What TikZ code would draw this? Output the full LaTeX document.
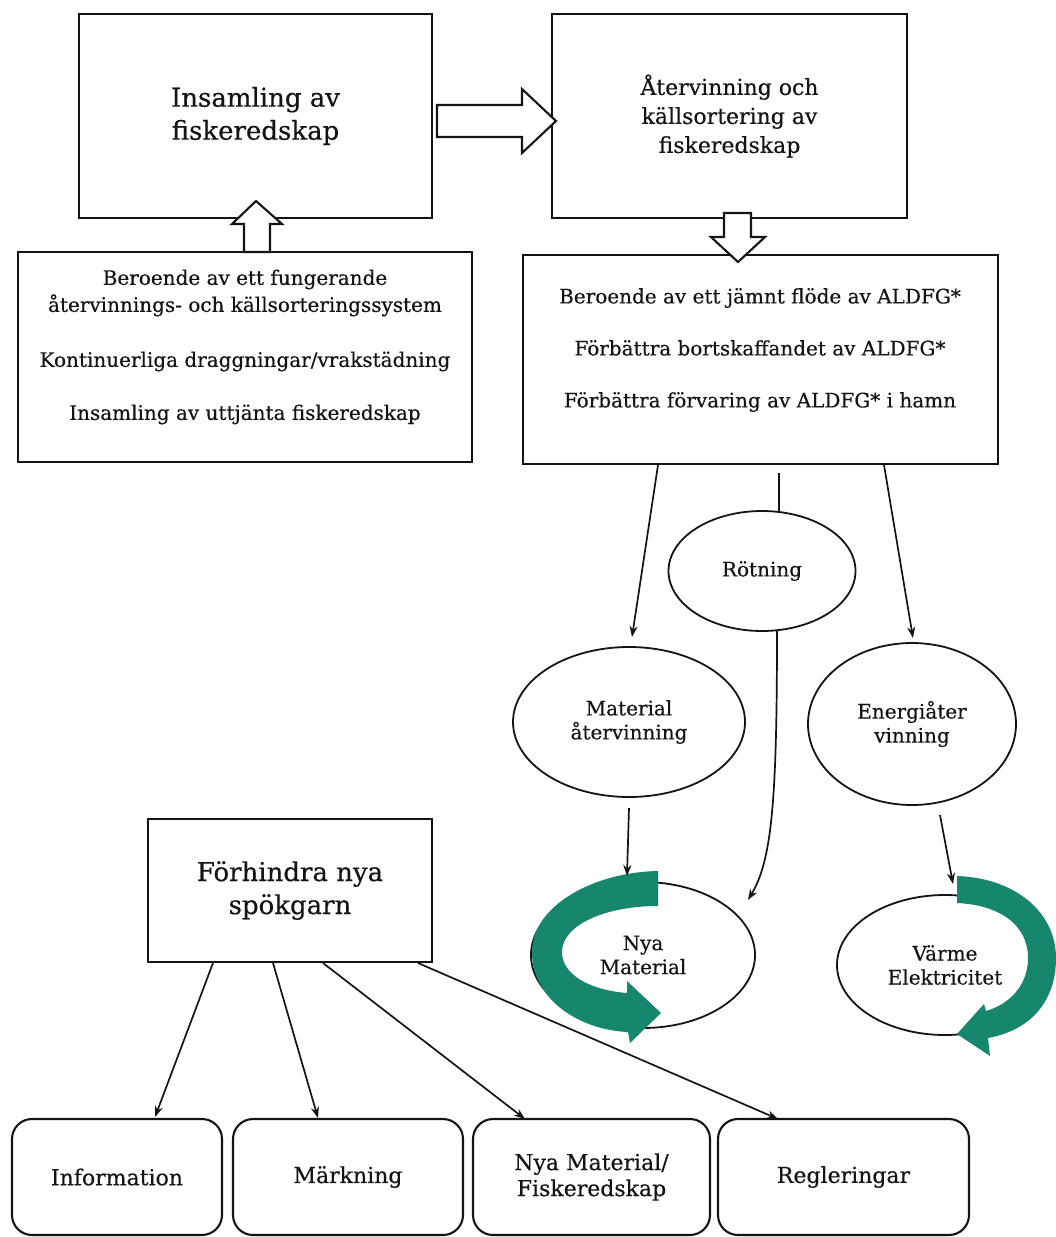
\documentclass[tikz,border=0pt]{standalone}
\usepackage{fontspec}
\setmainfont{DejaVu Serif}[FakeBold=0.4]
\usetikzlibrary{arrows.meta,shapes.geometric}
\definecolor{loopgreen}{RGB}{22,134,108}
\definecolor{ink}{RGB}{20,20,20}
\begin{document}
\begin{tikzpicture}[x=1pt,y=-1pt,
  every node/.style={text=ink},
  box/.style={draw=ink, line width=2.1pt, fill=white, inner sep=0pt},
  rbox/.style={box, rounded corners=20pt},
  oval/.style={ellipse, draw=ink, line width=1.8pt, fill=white, inner sep=0pt, align=center,
    font=\fontsize{20}{24}\selectfont},
  conn/.style={draw=ink, line width=1.7pt, -{Stealth[length=11pt,width=8pt]}},
  plainline/.style={draw=ink, line width=1.7pt},
  hollow/.style={draw=ink, line width=2.1pt, fill=white, line join=miter},
  loop/.style={fill=loopgreen, draw=none},
  headtxt/.style={font=\fontsize{26}{33}\selectfont, align=center},
  midtxt/.style={font=\fontsize{22}{29}\selectfont, align=center},
  smalltxt/.style={font=\fontsize{20}{27}\selectfont, align=center},
  bottxt/.style={font=\fontsize{22}{26}\selectfont, align=center},
]
\fill[white] (0,0) rectangle (1055,1237);
\useasboundingbox (0,0) rectangle (1055,1237);

% --- upper boxes ---
\node[box, headtxt, minimum width=353pt, minimum height=204pt] (A) at (255.5,116)
  {Insamling av\\fiskeredskap};
\node[box, midtxt, minimum width=355pt, minimum height=204pt] (B) at (729.5,116)
  {Återvinning och\\källsortering av\\fiskeredskap};

\node[box, minimum width=454pt, minimum height=210pt] (C) at (245,357) {};
\node[smalltxt] (Ctext) at (245,347)
  {Beroende av ett fungerande\\återvinnings- och källsorteringssystem\\[28pt]%
   Kontinuerliga draggningar/vrakstädning\\[26pt]%
   Insamling av uttjänta fiskeredskap};

\node[box, minimum width=475pt, minimum height=209pt] (D) at (760.5,359.5) {};
\node[smalltxt] (Dtext) at (760,350)
  {Beroende av ett jämnt flöde av ALDFG*\\[25pt]%
   Förbättra bortskaffandet av ALDFG*\\[25pt]%
   Förbättra förvaring av ALDFG* i hamn};

% --- hollow block arrows ---
\draw[hollow] (437,105) -- (522,105) -- (522,89) -- (556,121) -- (522,153)
  -- (522,137) -- (437,137) -- cycle;
\draw[hollow] (244,252) -- (244,224) -- (232,224) -- (256,201) -- (282,224)
  -- (270,224) -- (270,252) -- cycle;
\draw[hollow] (724,213) -- (751,213) -- (751,237) -- (765,237) -- (738,262)
  -- (711,237) -- (724,237) -- cycle;

% --- treatment routes ---
\node[oval, minimum width=187pt, minimum height=120pt] (rot) at (762,571) {Rötning};
\node[oval, minimum width=232pt, minimum height=150pt] (mat) at (629,722)
  {Material\\återvinning};
\node[oval, minimum width=208pt, minimum height=162pt] (ene) at (912,724)
  {Energiåter\\vinning};

\node[oval, minimum width=224pt, minimum height=146pt] (nym) at (643,955)
  {Nya\\Material};
\node[oval, minimum width=216pt, minimum height=140pt] (vrm) at (945,965)
  {Värme\\Elektricitet};

% circular green arrows
\fill[loop] (658,871) .. controls (595,872) and (532,905) .. (532,952)
  .. controls (532,1000) and (580,1030) .. (628,1032)
  -- (630,1043) -- (661,1013) -- (627,981) -- (627,993)
  .. controls (590,990) and (562,975) .. (562,952)
  .. controls (562,925) and (605,906) .. (658,906) -- cycle;
\fill[loop] (957,876) .. controls (1015,878) and (1056,912) .. (1056,958)
  .. controls (1056,1000) and (1032,1030) .. (988,1038)
  -- (990,1056) -- (957,1034) -- (984,1004) -- (986,1011)
  .. controls (1010,1004) and (1028,985) .. (1028,958)
  .. controls (1028,925) and (1000,905) .. (957,903) -- cycle;

\coordinate (dL) at (658,465);
\coordinate (dM) at (779,473);
\coordinate (dR) at (884,465);
\coordinate (matTop) at (632,637);
\coordinate (eneTop) at (913,638);
\coordinate (rotTop) at (779,512);
\coordinate (rotBot) at (777,631);
\coordinate (nymIn) at (748,900);
\coordinate (matBot) at (629,808);
\coordinate (nymTop) at (627,876);
\coordinate (eneBot) at (940,815);
\coordinate (vrmTop) at (953,884);

\draw[conn] (dL) -- (matTop);
\draw[conn] (dR) -- (eneTop);
\draw[plainline] (dM) -- (rotTop);
\draw[conn] (rotBot) .. controls (777,800) and (772,860) .. (nymIn);
\draw[conn] (matBot) -- (nymTop);
\draw[conn] (eneBot) -- (vrmTop);

% --- prevention ---
\node[box, headtxt, minimum width=284pt, minimum height=143pt] (E) at (290,890.5)
  {Förhindra nya\\spökgarn};

\node[rbox, bottxt, minimum width=210pt, minimum height=116pt] (b1) at (117,1177) {Information};
\node[rbox, bottxt, minimum width=230pt, minimum height=116pt] (b2) at (348,1177) {Märkning};
\node[rbox, bottxt, minimum width=237pt, minimum height=116pt] (b3) at (591.5,1177)
  {Nya Material/\\Fiskeredskap};
\node[rbox, bottxt, minimum width=251pt, minimum height=116pt] (b4) at (843.5,1177) {Regleringar};

\coordinate (e1) at (213,963);
\coordinate (e2) at (273,963);
\coordinate (e3) at (323,963);
\coordinate (e4) at (418,963);
\coordinate (t1) at (155,1117);
\coordinate (t2) at (318,1118);
\coordinate (t3) at (525,1119);
\coordinate (t4) at (778,1119);
\draw[conn] (e1) -- (t1);
\draw[conn] (e2) -- (t2);
\draw[conn] (e3) -- (t3);
\draw[conn] (e4) -- (t4);
\end{tikzpicture}
\end{document}
